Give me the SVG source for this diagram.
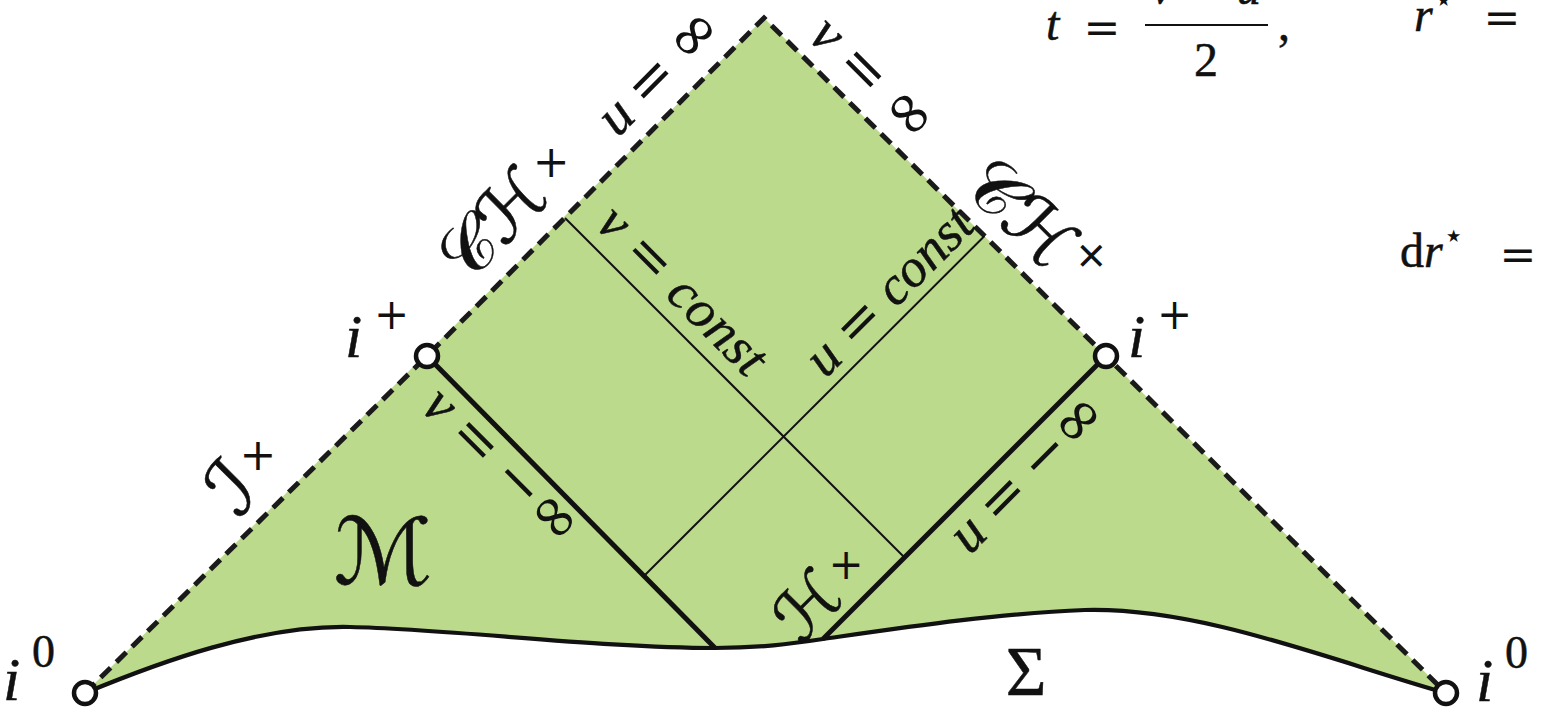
<svg xmlns="http://www.w3.org/2000/svg" width="1542" height="712" viewBox="0 0 1542 712">
<defs>
<style>
.fill{fill:#bcda8b;stroke:none}
.dash{fill:none;stroke:#1a1a1a;stroke-width:5;stroke-dasharray:14 8;stroke-linejoin:miter}
.thick{fill:none;stroke:#111;stroke-width:5}
.thin{fill:none;stroke:#111;stroke-width:2}
.sig{fill:none;stroke:#111;stroke-width:4.2}
.pt{fill:#fff;stroke:#111;stroke-width:4.5}
text{fill:#111;stroke:#111;stroke-width:0.5}
.m{font-family:"Liberation Serif",serif;font-style:italic}
.rm{font-family:"Liberation Serif",serif;font-style:normal}
.op{font-family:"DejaVu Serif",serif;font-style:normal;stroke-width:0}
.cal{font-family:"DejaVu Sans","DejaVu Serif",serif;font-style:normal}
.inf{font-size:62px}
</style>
</defs>
<rect width="1542" height="712" fill="#fff"/>
<g id="region">
<path class="fill" d="M764 18 L85 693 C160 662 260 625 350 627 C450 629 600 648 715 648 C760 648 790 644 823 639 C900 628 1000 613 1085 610 C1200 607 1330 660 1446 693 Z"/>
</g>
<g id="connectors">
<path class="dash" d="M85 693 L427 356 L764 18 L1106 356 L1446 693"/>
<path class="sig" d="M85 693 C160 662 260 625 350 627 C450 629 600 648 715 648 C760 648 790 644 823 639 C900 628 1000 613 1085 610 C1200 607 1330 660 1446 693"/>
<path class="thick" d="M427 356 L715 648"/>
<path class="thick" d="M1106 356 L823 639"/>
<path class="thin" d="M565 218 L904.5 557.5"/>
<path class="thin" d="M984.5 236 L644 576"/>
</g>
<g id="node-iplus-left">
<circle class="pt" cx="427" cy="356" r="11"/>
<text class="m" x="345" y="357" font-size="62">i<tspan class="op" x="374" y="329" font-size="42">+</tspan></text>
</g>
<g id="node-iplus-right">
<circle class="pt" cx="1106" cy="356" r="11"/>
<text class="m" x="1128" y="357" font-size="62">i<tspan class="op" x="1157" y="329" font-size="42">+</tspan></text>
</g>
<g id="node-i0-left">
<circle class="pt" cx="85" cy="693" r="11"/>
<text class="m" x="3" y="700" font-size="62">i<tspan class="rm" x="32" y="667" font-size="46" font-style="normal">0</tspan></text>
</g>
<g id="node-i0-right">
<circle class="pt" cx="1446" cy="693" r="11"/>
<text class="m" x="1476" y="701" font-size="62">i<tspan class="rm" x="1505" y="668" font-size="46" font-style="normal">0</tspan></text>
</g>
<g id="label-u-inf" transform="translate(685,98) rotate(-45)">
<text class="m" x="0" y="-19" font-size="56" text-anchor="middle" textLength="152" lengthAdjust="spacing">u <tspan class="op">=</tspan> <tspan class="op inf">∞</tspan></text>
</g>
<g id="label-v-inf" transform="translate(850,102) rotate(45)">
<text class="m" x="0" y="-15" font-size="56" text-anchor="middle" textLength="152" lengthAdjust="spacing">v <tspan class="op">=</tspan> <tspan class="op inf">∞</tspan></text>
</g>
<g id="label-CH-left" transform="translate(539,244) rotate(-45)">
<text class="cal" x="0" y="-22" font-size="72" text-anchor="middle">𝒞ℋ<tspan class="op" font-size="44" dy="-30" rotate="45">+</tspan></text>
</g>
<g id="label-CH-right" transform="translate(1004,256) rotate(45)">
<text class="cal" x="0" y="-18" font-size="72" text-anchor="middle">𝒞ℋ<tspan class="op" font-size="44" dy="-30">+</tspan></text>
</g>
<g id="label-v-const" transform="translate(660,313) rotate(45)">
<text class="m" x="0" y="-15" font-size="54" text-anchor="middle" textLength="216" lengthAdjust="spacing">v <tspan class="op">=</tspan> const</text>
</g>
<g id="label-u-const" transform="translate(909,311) rotate(-45)">
<text class="m" x="0" y="-11" font-size="54" text-anchor="middle" textLength="214" lengthAdjust="spacing">u <tspan class="op">=</tspan> const</text>
</g>
<g id="label-v-minf" transform="translate(518.5,449.5) rotate(45)">
<text class="m" x="0" y="41" font-size="56" text-anchor="middle" textLength="198" lengthAdjust="spacing">v <tspan class="op">=</tspan> <tspan class="op">−</tspan><tspan class="op inf">∞</tspan></text>
</g>
<g id="label-u-minf" transform="translate(1008,454) rotate(-45)">
<text class="m" x="0" y="45" font-size="56" text-anchor="middle" textLength="198" lengthAdjust="spacing">u <tspan class="op">=</tspan> <tspan class="op">−</tspan><tspan class="op inf">∞</tspan></text>
</g>
<g id="label-scri" transform="translate(275,505) rotate(-45)">
<text class="cal" x="0" y="-16" font-size="78" text-anchor="middle">ℐ<tspan class="op" font-size="44" dy="-34" rotate="45">+</tspan></text>
</g>
<g id="label-H" transform="translate(844,617) rotate(-45)">
<text class="cal" x="0" y="-10" font-size="68" text-anchor="middle">ℋ<tspan class="op" font-size="42" dy="-28" rotate="45">+</tspan></text>
</g>
<g id="label-M">
<text class="cal" x="383" y="584" font-size="92" text-anchor="middle">ℳ</text>
</g>
<g id="label-Sigma">
<text class="rm" x="1026" y="695" font-size="70" text-anchor="middle">Σ</text>
</g>
<g id="equations">
<text class="m" x="1046" y="40" font-size="48">t</text>
<text class="op" x="1102" y="43" font-size="44" text-anchor="middle">=</text>
<text class="m" x="1206" y="4" font-size="48" text-anchor="middle">v <tspan class="op">−</tspan> u</text>
<line x1="1145" y1="25" x2="1268" y2="25" stroke="#111" stroke-width="2.2"/>
<text class="rm" x="1206" y="76" font-size="48" text-anchor="middle">2</text>
<text class="rm" x="1278" y="40" font-size="48">,</text>
<text class="m" x="1414" y="31" font-size="48">r<tspan class="op" font-size="34" dy="-20">⋆</tspan></text>
<text class="op" x="1502" y="33" font-size="44" text-anchor="middle">=</text>
<text class="rm" x="1400" y="267" font-size="48">d<tspan class="m">r</tspan><tspan class="op" font-size="34" dy="-20">⋆</tspan></text>
<text class="op" x="1518" y="270" font-size="44" text-anchor="middle">=</text>
</g>
</svg>
